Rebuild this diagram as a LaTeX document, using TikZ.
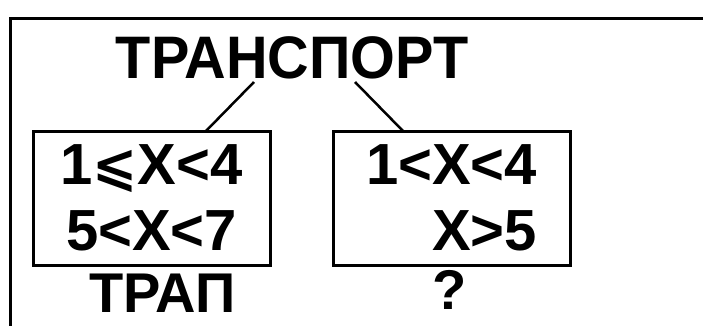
\documentclass[tikz,border=0pt]{standalone}
\usepackage{fontspec}
\setmainfont{Liberation Sans}
\newfontfamily\titlefont[FakeStretch=0.96]{Liberation Sans}
\newfontfamily\symfont{DejaVu Sans}

\begin{document}
\begin{tikzpicture}[x=1pt,y=1pt,line width=3pt]
        \tikzstyle{textbox}=[draw,minimum width=237pt,minimum height=134pt,inner sep=0pt,
                font=\bfseries\fontsize{58}{66}\selectfont]
        \tikzstyle{caption}=[anchor=base,inner sep=0pt,font=\bfseries\fontsize{56}{56}\selectfont]
        \tikzstyle{branch}=[line width=2.5pt]

        \useasboundingbox (0,0) rectangle (703,-326);
        % Frame round the picture
        \draw (10,-19) rectangle (712,-340);

        % Draw the title
        \node[caption,font=\titlefont\bfseries\fontsize{60}{60}\selectfont] (title) at (292,-79) {ТРАНСПОРТ};
        \coordinate (tl) at (254,-82);
        \coordinate (tr) at (355,-82);

        % Draw the two boxes
        \node[textbox,align=center] (left) at (151.5,-198)
            {1{\symfont\fontsize{54}{54}\selectfont ⩽}X<4\\5<X<7};
        \node[textbox,align=right] (right) at (451.5,-198) {1<X<4\\X>5};
        \coordinate (bl) at (206,-131);
        \coordinate (br) at (403,-131);

        % Connect the title with the boxes
        \draw[branch] (tl) -- (bl);
        \draw[branch] (tr) -- (br);

        % Annotate the boxes
        \node[caption] (trap) at (162.5,-312) {ТРАП};
        \node[caption,font=\bfseries\fontsize{56}{56}\selectfont] (query) at (450,-309) {?};
\end{tikzpicture}
\end{document}
